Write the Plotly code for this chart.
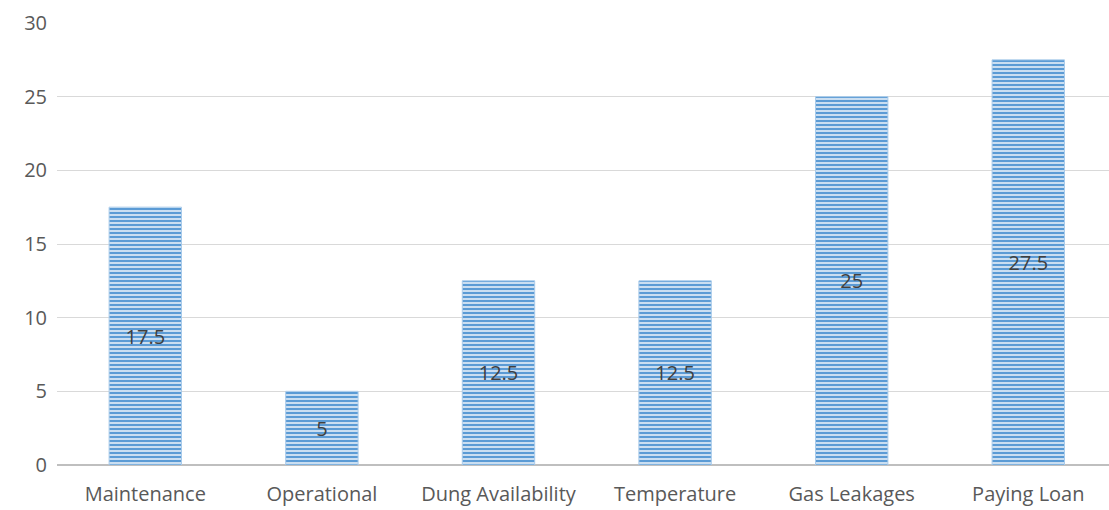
import plotly.graph_objects as go

categories = ["Maintenance", "Operational", "Dung Availability", "Temperature", "Gas Leakages", "Paying Loan"]
values = [17.5, 5, 12.5, 12.5, 25, 27.5]
y_ticks = [0, 5, 10, 15, 20, 25, 30]

FONT = "Open Sans, Liberation Sans, sans-serif"

fig = go.Figure(
    go.Bar(
        x=categories,
        y=values,
        width=0.41,
        text=[f"{v:g}" for v in values],
        textposition="inside",
        insidetextanchor="middle",
        textangle=0,
        textfont=dict(family=FONT, size=20, color="#404040"),
        marker=dict(
            color="#5b9bd5",
            line=dict(color="#a9cbea", width=1),
            pattern=dict(shape="-", fgcolor="#5b9bd5", fgopacity=1, bgcolor="#d6e6f5",
                         size=4, solidity=0.55, fillmode="replace"),
        ),
        cliponaxis=False,
    )
)

fig.update_layout(
    width=1109,
    height=510,
    margin=dict(l=57, r=0, t=23, b=45),
    paper_bgcolor="white",
    plot_bgcolor="white",
    showlegend=False,
)

fig.update_xaxes(
    type="category",
    range=[-0.5, 5.457],
    showgrid=False,
    showline=False,
    ticks="",
    tickfont=dict(family=FONT, size=20, color="#595959"),
    ticklabelstandoff=15,
)

fig.update_yaxes(
    range=[0, 30],
    tickvals=y_ticks,
    showgrid=True,
    gridcolor="#d9d9d9",
    gridwidth=1,
    zeroline=True,
    zerolinecolor="#bfbfbf",
    zerolinewidth=2,
    showline=False,
    ticks="",
    tickfont=dict(family=FONT, size=20, color="#595959"),
    ticklabelstandoff=9,
)

fig.write_html("out.html")
